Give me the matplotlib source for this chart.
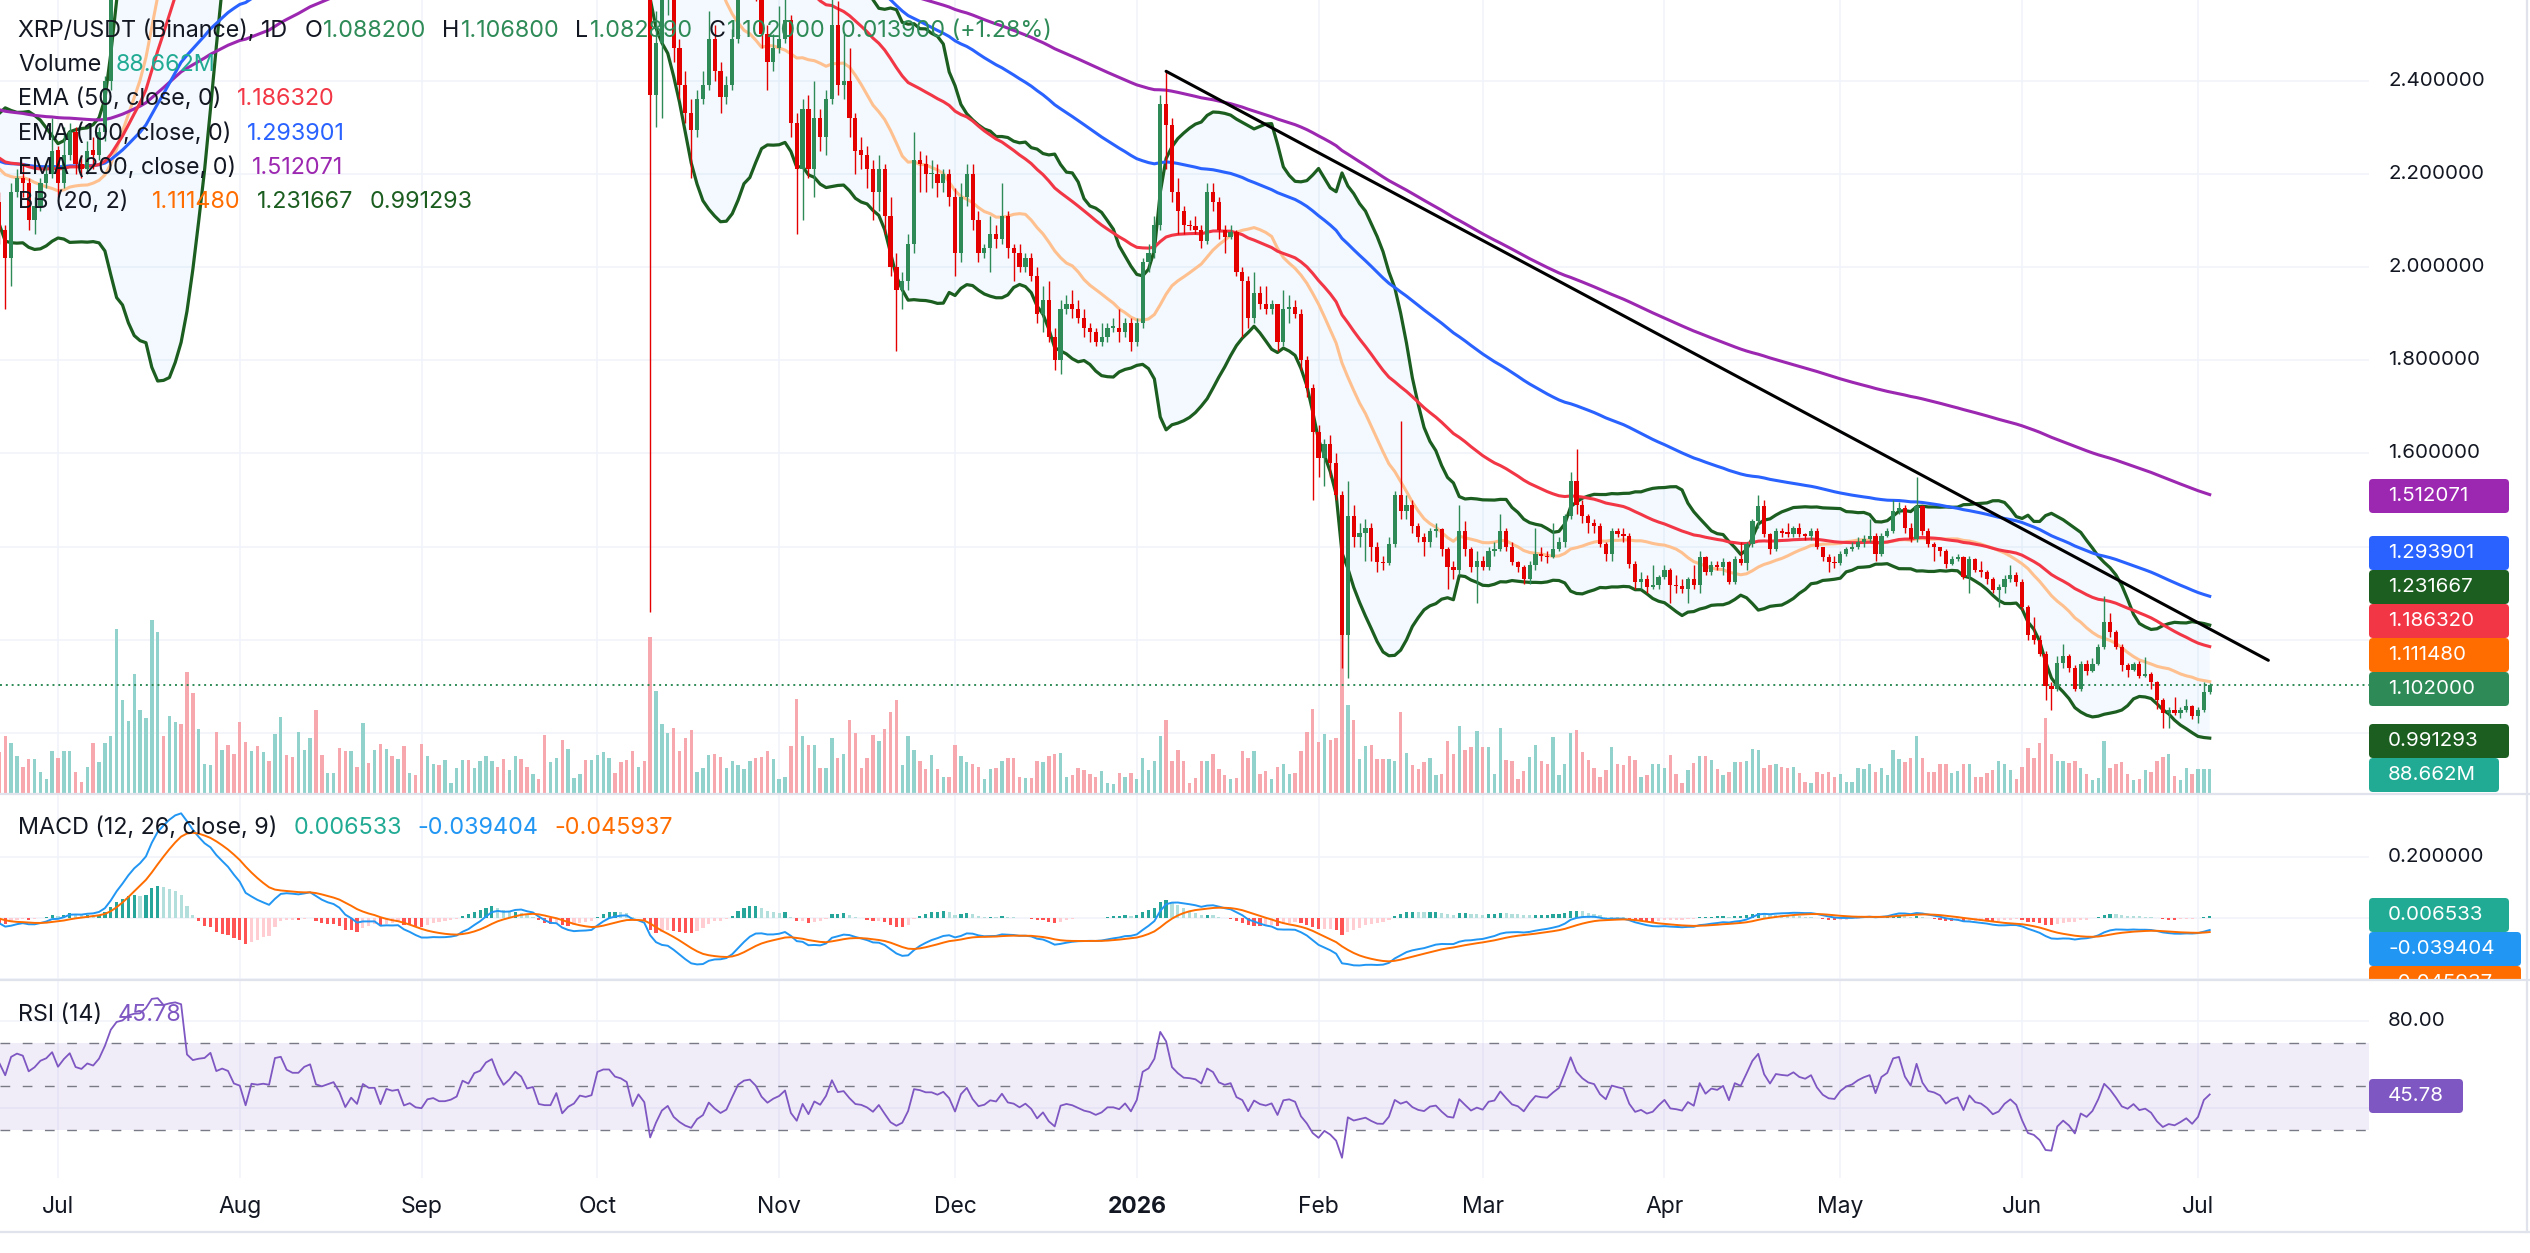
import numpy as np
import pandas as pd
import matplotlib
matplotlib.use("Agg")
import matplotlib.pyplot as plt
import matplotlib.transforms as mtransforms
from matplotlib.lines import Line2D
from matplotlib.patches import FancyBboxPatch

plt.rcParams['font.family'] = ['Inter', 'DejaVu Sans']

# ---------------- data (XRP/USDT daily) ----------------
START_DATE = "2025-06-21"
# warm-up closes before the first visible candle (1-20 Jun 2025)
PRE_CLOSE = [2.18, 2.26, 2.25, 2.24, 2.17, 2.18, 2.26, 2.27, 2.30, 2.32,
             2.28, 2.20, 2.17, 2.17, 2.18, 2.24, 2.16, 2.17, 2.17, 2.14]

CLOSE = [
    2.08, 2.02, 2.16, 2.19, 2.18, 2.10, 2.13, 2.18, 2.20, 2.25,
    2.18, 2.24, 2.29, 2.22, 2.21, 2.25, 2.24, 2.29, 2.40, 2.60, 2.74,
    2.77, 2.88, 2.92, 2.93, 3.07, 3.44, 3.48, 3.44, 3.51, 3.55,
    3.54, 3.20, 3.15, 3.17, 3.18, 3.25, 3.10, 3.13, 3.11, 3.00,
    2.98, 2.77, 2.99, 2.98, 2.99, 2.98, 3.31, 3.33, 3.21, 3.18,
    3.18, 3.25, 3.28, 3.10, 3.08, 3.10, 3.12, 3.03, 2.87, 2.95,
    2.88, 3.07, 3.03, 3.03, 2.85, 3.00, 2.98, 2.99, 2.81, 2.83,
    2.78, 2.77, 2.84, 2.85, 2.82, 2.82, 2.83, 2.85, 2.96, 2.94,
    3.02, 3.04, 3.11, 3.14, 3.05, 2.98, 3.02, 3.08, 3.05, 2.97,
    2.98, 2.85, 2.84, 2.84, 2.91, 2.74, 2.78, 2.80, 2.85, 2.84,
    2.85, 3.01, 3.03, 3.03, 2.99, 2.98, 2.96, 2.80, 2.87, 2.81,
    2.37, 2.48, 2.58, 2.62, 2.47, 2.39, 2.33, 2.295, 2.36, 2.39,
    2.49, 2.42, 2.365, 2.39, 2.49, 2.60, 2.64, 2.65, 2.60, 2.50,
    2.44, 2.47, 2.49, 2.53, 2.31, 2.21, 2.34, 2.21, 2.32, 2.28,
    2.36, 2.52, 2.39, 2.40, 2.32, 2.25, 2.24, 2.21, 2.16, 2.21,
    2.11, 2.00, 1.95, 1.97, 2.05, 2.23, 2.22, 2.20, 2.20, 2.18,
    2.20, 2.15, 2.03, 2.15, 2.20, 2.10, 2.03, 2.04, 2.07, 2.06,
    2.11, 2.04, 2.03, 2.00, 2.02, 1.98, 1.90, 1.93, 1.85, 1.80,
    1.91, 1.92, 1.91, 1.89, 1.87, 1.86, 1.84, 1.85, 1.87, 1.87,
    1.86, 1.88, 1.84, 1.88, 2.01, 2.03, 2.09, 2.35, 2.305, 2.16,
    2.12, 2.09, 2.087, 2.08, 2.055, 2.16, 2.14, 2.08, 2.065, 2.075,
    1.99, 1.97, 1.89, 1.945, 1.92, 1.91, 1.92, 1.84, 1.91, 1.915,
    1.90, 1.80, 1.74, 1.645, 1.59, 1.62, 1.58, 1.51, 1.21, 1.466,
    1.42, 1.43, 1.44, 1.40, 1.367, 1.365, 1.405, 1.51, 1.477, 1.49,
    1.444, 1.42, 1.41, 1.433, 1.438, 1.395, 1.357, 1.35, 1.433, 1.395,
    1.357, 1.37, 1.357, 1.39, 1.395, 1.433, 1.40, 1.367, 1.357, 1.33,
    1.36, 1.385, 1.38, 1.378, 1.395, 1.41, 1.465, 1.54, 1.49, 1.466,
    1.45, 1.444, 1.405, 1.384, 1.433, 1.427, 1.422, 1.362, 1.324, 1.33,
    1.313, 1.318, 1.335, 1.35, 1.318, 1.315, 1.31, 1.33, 1.318, 1.378,
    1.345, 1.36, 1.356, 1.367, 1.324, 1.373, 1.365, 1.405, 1.455, 1.487,
    1.427, 1.395, 1.433, 1.43, 1.428, 1.44, 1.427, 1.422, 1.433, 1.40,
    1.378, 1.367, 1.365, 1.384, 1.395, 1.40, 1.41, 1.417, 1.422, 1.384,
    1.422, 1.433, 1.477, 1.482, 1.44, 1.417, 1.487, 1.433, 1.405, 1.40,
    1.39, 1.362, 1.373, 1.378, 1.335, 1.373, 1.35, 1.345, 1.33, 1.307,
    1.313, 1.33, 1.34, 1.324, 1.27, 1.21, 1.20, 1.17, 1.10, 1.095,
    1.15, 1.165, 1.14, 1.095, 1.149, 1.132, 1.149, 1.185, 1.239, 1.217,
    1.185, 1.146, 1.135, 1.149, 1.123, 1.127, 1.11, 1.071, 1.042, 1.049,
    1.043, 1.05, 1.058, 1.036, 1.05, 1.0882, 1.102,
]

HIGH = [
    2.16, 2.09, 2.18, 2.21, 2.22, 2.19, 2.15, 2.19, 2.22, 2.32,
    2.26, 2.30, 2.31, 2.30, 2.24, 2.27, 2.28, 2.30, 2.41, 2.64, 3.00,
    2.85, 2.93, 3.01, 3.03, 3.10, 3.48, 3.66, 3.53, 3.55, 3.62,
    3.65, 3.58, 3.26, 3.20, 3.24, 3.27, 3.33, 3.17, 3.19, 3.18,
    3.04, 3.01, 3.02, 3.07, 3.04, 3.02, 3.38, 3.38, 3.36, 3.26,
    3.28, 3.27, 3.33, 3.30, 3.13, 3.14, 3.17, 3.12, 3.05, 2.99,
    2.97, 3.10, 3.09, 3.06, 3.04, 3.03, 3.03, 3.02, 2.99, 2.85,
    2.84, 2.80, 2.86, 2.88, 2.86, 2.87, 2.85, 2.87, 2.99, 3.03,
    3.04, 3.06, 3.12, 3.18, 3.16, 3.08, 3.04, 3.10, 3.13, 3.08,
    3.00, 2.99, 2.88, 2.92, 2.94, 2.92, 2.80, 2.82, 2.87, 2.90,
    2.88, 3.02, 3.06, 3.09, 3.04, 3.01, 3.03, 2.99, 2.89, 2.87,
    2.85, 2.55, 2.62, 2.70, 2.64, 2.49, 2.42, 2.36, 2.38, 2.42,
    2.55, 2.52, 2.44, 2.41, 2.51, 2.62, 2.69, 2.70, 2.66, 2.63,
    2.52, 2.50, 2.56, 2.58, 2.54, 2.33, 2.36, 2.37, 2.40, 2.34,
    2.38, 2.58, 2.57, 2.50, 2.47, 2.33, 2.28, 2.26, 2.23, 2.24,
    2.22, 2.15, 2.03, 1.99, 2.07, 2.29, 2.25, 2.24, 2.23, 2.22,
    2.21, 2.21, 2.17, 2.18, 2.22, 2.22, 2.12, 2.05, 2.11, 2.09,
    2.18, 2.12, 2.05, 2.05, 2.03, 2.03, 2.00, 1.96, 1.97, 1.87,
    1.93, 1.94, 1.95, 1.93, 1.91, 1.88, 1.87, 1.88, 1.88, 1.89,
    1.91, 1.89, 1.89, 1.89, 2.02, 2.05, 2.11, 2.37, 2.42, 2.32,
    2.19, 2.13, 2.10, 2.11, 2.09, 2.18, 2.18, 2.15, 2.09, 2.09,
    2.08, 2.00, 1.98, 1.99, 1.96, 1.96, 1.93, 1.92, 1.95, 1.94,
    1.93, 1.91, 1.81, 1.75, 1.66, 1.63, 1.64, 1.60, 1.52, 1.54,
    1.49, 1.45, 1.46, 1.45, 1.41, 1.38, 1.42, 1.52, 1.67, 1.51,
    1.50, 1.45, 1.43, 1.44, 1.45, 1.44, 1.40, 1.37, 1.49, 1.455,
    1.40, 1.39, 1.38, 1.40, 1.41, 1.47, 1.44, 1.41, 1.37, 1.36,
    1.37, 1.44, 1.40, 1.39, 1.45, 1.42, 1.47, 1.56, 1.61, 1.50,
    1.47, 1.46, 1.45, 1.41, 1.44, 1.44, 1.44, 1.43, 1.37, 1.345,
    1.34, 1.36, 1.34, 1.36, 1.355, 1.34, 1.33, 1.335, 1.36, 1.39,
    1.38, 1.37, 1.37, 1.375, 1.37, 1.38, 1.41, 1.41, 1.46, 1.51,
    1.50, 1.43, 1.44, 1.44, 1.45, 1.445, 1.45, 1.43, 1.44, 1.44,
    1.40, 1.385, 1.38, 1.39, 1.40, 1.41, 1.42, 1.425, 1.46, 1.43,
    1.43, 1.44, 1.50, 1.495, 1.49, 1.45, 1.55, 1.49, 1.44, 1.41,
    1.40, 1.395, 1.38, 1.385, 1.38, 1.38, 1.375, 1.37, 1.35, 1.335,
    1.32, 1.34, 1.36, 1.345, 1.33, 1.275, 1.25, 1.21, 1.175, 1.11,
    1.165, 1.19, 1.17, 1.145, 1.155, 1.156, 1.16, 1.19, 1.294, 1.257,
    1.22, 1.19, 1.15, 1.152, 1.155, 1.163, 1.13, 1.112, 1.075, 1.055,
    1.077, 1.055, 1.074, 1.06, 1.055, 1.11, 1.1068,
]

LOW = [
    2.05, 1.91, 1.96, 2.15, 2.15, 2.08, 2.07, 2.12, 2.17, 2.19,
    2.15, 2.17, 2.23, 2.20, 2.19, 2.20, 2.21, 2.23, 2.27, 2.38, 2.58,
    2.68, 2.74, 2.82, 2.83, 2.90, 3.05, 3.36, 3.38, 3.42, 3.45,
    3.40, 3.10, 2.99, 3.00, 3.14, 3.14, 3.08, 3.05, 3.03, 2.98,
    2.88, 2.72, 2.77, 2.94, 2.92, 2.88, 2.98, 3.23, 3.18, 3.11,
    3.11, 3.10, 3.20, 3.05, 3.04, 3.05, 3.06, 2.98, 2.86, 2.83,
    2.85, 2.87, 2.99, 2.97, 2.84, 2.85, 2.94, 2.96, 2.80, 2.80,
    2.77, 2.70, 2.75, 2.80, 2.76, 2.79, 2.80, 2.82, 2.84, 2.92,
    2.93, 2.98, 3.02, 3.09, 3.03, 2.97, 2.96, 2.97, 3.03, 2.96,
    2.96, 2.83, 2.79, 2.82, 2.83, 2.69, 2.73, 2.76, 2.79, 2.81,
    2.78, 2.84, 2.98, 2.99, 2.97, 2.95, 2.94, 2.79, 2.79, 2.78,
    1.26, 2.30, 2.32, 2.54, 2.44, 2.36, 2.31, 2.19, 2.28, 2.35,
    2.38, 2.40, 2.33, 2.35, 2.38, 2.48, 2.58, 2.61, 2.57, 2.47,
    2.38, 2.42, 2.46, 2.48, 2.28, 2.07, 2.10, 2.19, 2.15, 2.25,
    2.24, 2.35, 2.37, 2.36, 2.28, 2.20, 2.21, 2.17, 2.10, 2.12,
    2.07, 1.98, 1.82, 1.91, 1.95, 2.03, 2.16, 2.16, 2.17, 2.15,
    2.16, 2.13, 1.98, 2.01, 2.13, 2.08, 2.01, 2.02, 1.99, 2.04,
    2.05, 2.02, 1.97, 1.99, 1.99, 1.97, 1.88, 1.86, 1.84, 1.78,
    1.77, 1.90, 1.89, 1.88, 1.85, 1.84, 1.83, 1.83, 1.84, 1.86,
    1.84, 1.85, 1.82, 1.83, 1.87, 1.99, 2.02, 2.08, 2.21, 2.14,
    2.07, 2.07, 2.08, 2.07, 2.04, 2.05, 2.12, 2.06, 2.03, 2.06,
    1.98, 1.85, 1.87, 1.88, 1.91, 1.90, 1.90, 1.82, 1.83, 1.88,
    1.89, 1.78, 1.72, 1.50, 1.55, 1.53, 1.55, 1.50, 1.14, 1.117,
    1.40, 1.40, 1.37, 1.37, 1.345, 1.35, 1.36, 1.40, 1.46, 1.46,
    1.43, 1.41, 1.38, 1.40, 1.42, 1.38, 1.31, 1.33, 1.34, 1.38,
    1.345, 1.28, 1.35, 1.35, 1.38, 1.39, 1.39, 1.36, 1.345, 1.32,
    1.32, 1.35, 1.37, 1.365, 1.375, 1.39, 1.40, 1.46, 1.47, 1.45,
    1.43, 1.43, 1.40, 1.37, 1.37, 1.42, 1.41, 1.355, 1.31, 1.31,
    1.30, 1.31, 1.31, 1.33, 1.28, 1.30, 1.30, 1.28, 1.31, 1.30,
    1.34, 1.34, 1.35, 1.34, 1.32, 1.32, 1.36, 1.35, 1.40, 1.44,
    1.42, 1.385, 1.39, 1.42, 1.42, 1.42, 1.42, 1.415, 1.415, 1.395,
    1.37, 1.345, 1.355, 1.36, 1.38, 1.39, 1.395, 1.40, 1.41, 1.37,
    1.38, 1.42, 1.43, 1.47, 1.43, 1.41, 1.41, 1.425, 1.40, 1.37,
    1.38, 1.355, 1.36, 1.37, 1.33, 1.30, 1.345, 1.335, 1.32, 1.30,
    1.27, 1.30, 1.325, 1.315, 1.265, 1.20, 1.19, 1.165, 1.07, 1.05,
    1.09, 1.14, 1.13, 1.09, 1.09, 1.125, 1.13, 1.145, 1.18, 1.207,
    1.18, 1.134, 1.121, 1.132, 1.118, 1.12, 1.094, 1.052, 1.010, 1.01,
    1.038, 1.032, 1.045, 1.031, 1.021, 1.045, 1.08289,
]

VOLUME_M = [
    150,
    207, 180, 133, 96, 124, 124, 78, 50, 152, 128,
    152, 152, 78, 41, 96, 180, 111, 183, 207, 596,
    337, 263, 433, 300, 272, 629, 586, 207, 281, 259,
    250, 438, 364, 231, 105, 100, 220, 157, 176, 142,
    257, 185, 152, 170, 148, 115, 213, 276, 137, 130,
    222, 157, 198, 300, 139, 72, 72, 165, 152, 152,
    96, 253, 109, 157, 179, 161, 133, 124,
    170, 74, 65, 179, 133, 105, 100, 120, 37, 91,
    120, 120, 91, 115, 133, 115, 96, 124, 83, 133,
    124, 96, 68, 50, 211, 111, 128, 194, 161, 54,
    68, 118, 118, 139, 148, 128, 74, 111, 120, 154,
    96, 115, 568, 370, 250, 216, 235, 152, 198, 229,
    78, 91, 137, 142, 130, 91, 115, 100, 87, 115,
    128, 130, 152, 124, 50,
    59, 170, 342, 207, 176, 176, 91, 92, 198, 128,
    142, 266, 216, 91, 128, 211, 189, 231, 294, 337,
    100, 207, 157, 115, 87, 139, 87, 59, 59, 174,
    133, 111, 105, 96, 50, 87, 91, 115, 128, 128,
    59, 54, 54, 115, 111, 133, 142, 146, 59, 65,
    91, 83, 68, 59, 81, 37, 31, 72, 59, 74,
    50,
    128, 83, 115, 207, 266, 115, 157, 115, 37, 54,
    115, 115, 142, 87, 65, 50, 54, 152, 128, 152,
    68, 81, 50, 96, 105, 68, 74, 152, 222, 305,
    185, 213, 194, 198, 620, 319, 266, 124, 170, 176,
    124, 124, 124, 115, 294, 146, 102, 87, 111, 128,
    65, 68, 189, 142, 244, 157, 166, 226, 166, 166,
    68, 235, 118, 115, 50,
    80, 130, 176, 115, 105, 204, 65, 105, 216, 229,
    148, 120, 92, 59, 83, 166, 105, 102, 133, 120,
    59, 65, 105, 105, 92, 137, 68, 37, 83, 109,
    133, 133, 118, 87, 65, 78, 111, 111, 115, 161,
    157, 92, 102, 105, 96, 92, 96, 72, 41, 37,
    78, 68, 78, 59, 68, 41, 41, 91, 87, 105,
    78, 91, 65, 157, 124, 111, 128, 207,
    128, 78, 78, 105, 105, 72, 81, 105, 105, 59,
    59, 72, 83, 115, 105, 83, 50, 96, 164, 128,
    183, 272, 142, 115, 115, 109, 115,
    92, 70, 46, 56, 188, 92, 104, 111, 70, 46,
    50, 82, 75, 115, 129, 140, 60, 46, 92, 68,
    86, 88, 88.662,
]

EMA_SEED = {50: 2.24, 100: 2.23, 200: 2.34}   # values at the left edge
TREND_DATES = ["2026-01-06", "2026-07-13"]
TREND_PRICE = [2.42, 1.156]
LAST_PRICE = 1.102

OHLC_TEXT = ["1.088200", "1.106800", "1.082890", "1.102000"]
CHANGE_TEXT = "0.013900 (+1.28%)"
VOLUME_TEXT = "88.662M"
EMA_TEXT = ["1.186320", "1.293901", "1.512071"]
BB_TEXT = ["1.111480", "1.231667", "0.991293"]
MACD_TEXT = ["0.006533", "-0.039404", "-0.045937"]
RSI_TEXT = "45.78"

PRICE_TICKS = [1.0, 1.2, 1.4, 1.6, 1.8, 2.0, 2.2, 2.4]
MACD_TICKS = [-0.2, 0.0, 0.2]
RSI_TICKS = [40, 80]

assert len(CLOSE) == len(HIGH) == len(LOW) == len(VOLUME_M)

# ---------------- indicators ----------------
close = np.array(CLOSE)
high = np.array(HIGH)
low = np.array(LOW)
vol = np.array(VOLUME_M)
allc = pd.Series(PRE_CLOSE + CLOSE)
npre = len(PRE_CLOSE)
opn = allc.values[npre - 1:-1]


def ema_seeded(values, length, seed):
    a = 2.0 / (length + 1)
    out = np.empty(len(values))
    prev = seed
    for i, v in enumerate(values):
        prev = a * v + (1 - a) * prev
        out[i] = prev
    return out


ema = {n: ema_seeded(close, n, s) for n, s in EMA_SEED.items()}
bb_mid = allc.rolling(20).mean().values[npre:]
bb_sd = allc.rolling(20).std(ddof=0).values[npre:]
bb_up = bb_mid + 2 * bb_sd
bb_lo = bb_mid - 2 * bb_sd

macd_all = allc.ewm(span=12, adjust=False).mean() - allc.ewm(span=26, adjust=False).mean()
sig_all = macd_all.ewm(span=9, adjust=False).mean()
macd = macd_all.values[npre:]
sig = sig_all.values[npre:]
hist = macd - sig

d = allc.diff()
gain = d.clip(lower=0).ewm(alpha=1 / 14, adjust=False).mean()
loss = (-d.clip(upper=0)).ewm(alpha=1 / 14, adjust=False).mean()
rsi = (100 - 100 / (1 + gain / loss)).values[npre:]

dates = pd.date_range(START_DATE, periods=len(CLOSE), freq="D")
DAY0 = pd.Timestamp("2025-07-01")
x = (dates - DAY0).days.values.astype(float)
months = pd.date_range("2025-07-01", "2026-07-01", freq="MS")
mx = (months - DAY0).days.values.astype(float)
tx = (pd.to_datetime(TREND_DATES) - DAY0).days.values.astype(float)

# ---------------- layout (pixels) ----------------
W, H = 2530, 1253
PLOT_R = 2369
PRICE_PX, MACD_PX, RSI_PX = (0, 793), (795, 979), (981, 1178)
JUL1_PX, DAY_PX = 58, 5.863
XLIM = (-JUL1_PX / DAY_PX, (PLOT_R - JUL1_PX) / DAY_PX)
BOX_H = 34

DARK = "#131722"
GRID = "#F0F3FA"
UP, DOWN = "#2E8B57", "#E50000"
VUP, VDOWN = "#92D2CC", "#F7A8AE"
FS = 16.8       # legends
FS_AX = 14.8    # price scales
FS_T = 16.5     # time axis

fig = plt.figure(figsize=(W / 100, H / 100), dpi=100)
fig.patch.set_facecolor("white")


def axes_px(x0, y0, x1, y1):
    return fig.add_axes([x0 / W, 1 - y1 / H, (x1 - x0) / W, (y1 - y0) / H])


def clean(ax):
    ax.set_xticks([])
    ax.set_yticks([])
    for s in ax.spines.values():
        s.set_visible(False)


# price pane: volume axes underneath, price axes on top
ax_v = axes_px(0, PRICE_PX[0], PLOT_R, PRICE_PX[1])
ax_p = ax_v.twinx()
ax_p.patch.set_visible(False)
for a in (ax_v, ax_p):
    clean(a)
ax_v.set_xlim(*XLIM)
ax_p.set_ylim(1 - (PRICE_PX[1] - 733) / 466, 1 + (733 - PRICE_PX[0]) / 466)
ax_v.set_ylim(0, (PRICE_PX[1] - PRICE_PX[0]) * 3.63)

tr = mtransforms.blended_transform_factory(ax_v.transAxes, ax_p.transData)
for p in PRICE_TICKS:
    ax_v.plot([0, 1], [p, p], transform=tr, color=GRID, lw=1.1, zorder=0)
for m in mx:
    ax_v.axvline(m, color=GRID, lw=1.1, zorder=0)

is_up = close >= opn
ax_v.bar(x, vol, width=0.58, color=np.where(is_up, VUP, VDOWN), linewidth=0, zorder=2)

ax_p.fill_between(x, bb_lo, bb_up, color="#2196F3", alpha=0.05, lw=0, zorder=1)
ax_p.plot(x, bb_mid, color="#FFC08F", lw=2.2, zorder=2)
ax_p.plot(x, bb_up, color="#1B5E20", lw=2.3, zorder=2)
ax_p.plot(x, bb_lo, color="#1B5E20", lw=2.3, zorder=2)
ax_p.plot(x, ema[200], color="#9C27B0", lw=2.2, zorder=3)
ax_p.plot(x, ema[100], color="#2962FF", lw=2.2, zorder=3)
ax_p.plot(x, ema[50], color="#F23645", lw=2.2, zorder=3)

ccol = np.where(is_up, UP, DOWN)
ax_p.vlines(x, low, high, colors=ccol, lw=1.0, zorder=4)
body_lo = np.minimum(opn, close)
body_h = np.maximum(np.abs(close - opn), 1.2 / 466)
ax_p.bar(x, body_h, bottom=body_lo, width=0.72, color=ccol, linewidth=0, zorder=5)

ax_p.plot(tx, TREND_PRICE, color="black", lw=2.2, solid_capstyle="round", zorder=6)
ax_p.axhline(LAST_PRICE, color=UP, lw=1.4, ls=(0, (1, 2)), zorder=3)

# MACD pane
ax_m = axes_px(0, MACD_PX[0], PLOT_R, MACD_PX[1])
clean(ax_m)
ax_m.set_xlim(*XLIM)
ax_m.set_ylim(-(MACD_PX[1] - 918) / 305, (918 - MACD_PX[0]) / 305)
for v in MACD_TICKS:
    ax_m.axhline(v, color=GRID, lw=1.1, zorder=0)
for m in mx:
    ax_m.axvline(m, color=GRID, lw=1.1, zorder=0)
prev = np.r_[hist[0], hist[:-1]]
hcol = np.where(hist >= 0, np.where(hist >= prev, "#26A69A", "#B2DFDB"),
                np.where(hist <= prev, "#FF5252", "#FFCDD2"))
ax_m.bar(x, hist, width=0.55, color=hcol, linewidth=0, zorder=2)
ax_m.plot(x, macd, color="#2196F3", lw=1.4, zorder=3)
ax_m.plot(x, sig, color="#FF6D00", lw=1.4, zorder=3)

# RSI pane
ax_r = axes_px(0, RSI_PX[0], PLOT_R, RSI_PX[1])
clean(ax_r)
ax_r.set_xlim(*XLIM)
ax_r.set_ylim(40 - (RSI_PX[1] - 1108) / 2.175, 40 + (1108 - RSI_PX[0]) / 2.175)
for v in RSI_TICKS:
    ax_r.axhline(v, color=GRID, lw=1.1, zorder=0)
for m in mx:
    ax_r.axvline(m, color=GRID, lw=1.1, zorder=0)
ax_r.axhspan(30, 70, color="#7E57C2", alpha=0.1, lw=0, zorder=1)
for v in (70, 50, 30):
    ax_r.axhline(v, color="#787B86", lw=1.0, ls=(0, (7, 9)), zorder=2)
ax_r.plot(x, rsi, color="#7E57C2", lw=1.3, zorder=3)

# separators / borders
for yy in (794, 980):
    fig.add_artist(Line2D([0, 1], [1 - yy / H] * 2, transform=fig.transFigure, color="#E0E3EB", lw=1.6))
fig.add_artist(Line2D([0, 1], [1 - 1232 / H] * 2, transform=fig.transFigure, color="#E0E3EB", lw=1.6))
fig.add_artist(Line2D([2527 / W] * 2, [1 - 1232 / H, 1], transform=fig.transFigure, color="#E0E3EB", lw=1.6))

# ---------------- right scales ----------------
IDT = mtransforms.IdentityTransform()


def scale_axes(pane, ylim):
    a = axes_px(PLOT_R, pane[0], 2526, pane[1])
    clean(a)
    a.set_ylim(*ylim)
    a.patch.set_visible(False)
    return a


def scale_box(a, y_px, s, color, right_px):
    box = FancyBboxPatch((PLOT_R, H - y_px - BOX_H / 2), right_px - PLOT_R, BOX_H,
                         boxstyle="round,pad=0,rounding_size=4", transform=IDT,
                         fc=color, ec="none", zorder=5)
    a.add_artist(box)
    a.text(2388, H - y_px, s, transform=IDT, color="white", fontsize=FS_AX,
           va="center", ha="left", zorder=6, clip_on=True)


def scale_labels(a, data_ax, ticks, fmt, boxes, keep_partial=False):
    # tick labels; the ones buried under a value box are left out
    t = mtransforms.blended_transform_factory(a.transAxes, a.transData)
    for v in ticks:
        y_px = H - data_ax.transData.transform((0, v))[1]
        hidden = any(abs(y_px - b[0]) < BOX_H / 2 + 4 for b in boxes)
        if hidden and not keep_partial:
            continue
        a.text(19 / (2526 - PLOT_R), v, fmt.format(v), transform=t, color=DARK,
               fontsize=FS_AX, va="center", ha="left", zorder=2, clip_on=True)
    for b in boxes:
        scale_box(a, *b)


price_boxes = [(496, EMA_TEXT[2], "#9C27B0", 2509), (553, EMA_TEXT[1], "#2962FF", 2509),
               (587, BB_TEXT[1], "#1B5E20", 2509), (621, EMA_TEXT[0], "#F23645", 2509),
               (655, BB_TEXT[0], "#FF6D00", 2509), (689, OHLC_TEXT[3], UP, 2509),
               (741, BB_TEXT[2], "#1B5E20", 2509), (775, VOLUME_TEXT, "#22AB94", 2499)]
macd_boxes = [(915, MACD_TEXT[0], "#22AB94", 2509), (949, MACD_TEXT[1], "#2196F3", 2521),
              (983, MACD_TEXT[2], "#FF6D00", 2521)]
rsi_boxes = [(1096, RSI_TEXT, "#7E57C2", 2463)]

s_p = scale_axes(PRICE_PX, ax_p.get_ylim())
s_m = scale_axes(MACD_PX, ax_m.get_ylim())
s_r = scale_axes(RSI_PX, ax_r.get_ylim())
scale_labels(s_p, ax_p, PRICE_TICKS, "{:.6f}", price_boxes)
scale_labels(s_m, ax_m, MACD_TICKS, "{:.6f}", macd_boxes)
scale_labels(s_r, ax_r, RSI_TICKS, "{:.2f}", rsi_boxes, keep_partial=True)

# ---------------- time axis ----------------
ttr = mtransforms.blended_transform_factory(ax_r.transData, fig.transFigure)
for m, dt in zip(mx, months):
    lab = str(dt.year) if dt.month == 1 else dt.strftime("%b")
    fig.text(m, 1 - 1207 / H, lab, transform=ttr, color=DARK, fontsize=FS_T,
             ha="center", va="center", fontweight="bold" if dt.month == 1 else "normal")

# ---------------- legends ----------------
R = fig.canvas.get_renderer()


def legend_row(y_px, parts, x_px=18):
    xx = x_px
    for it in parts:
        if isinstance(it, (int, float)):
            xx += it
            continue
        s, c = it
        t = fig.text(xx / W, 1 - y_px / H, s, color=c, fontsize=FS, ha="left", va="center")
        xx += t.get_window_extent(renderer=R).width


G = "#2E8B57"
legend_row(31, [("XRP/USDT (Binance), 1D", DARK), 17,
                ("O", DARK), 1, (OHLC_TEXT[0], G), 16, ("H", DARK), 1, (OHLC_TEXT[1], G), 16,
                ("L", DARK), 1, (OHLC_TEXT[2], G), 16, ("C", DARK), 1, (OHLC_TEXT[3], G), 16,
                (CHANGE_TEXT, G)])
legend_row(65, [("Volume", DARK), 14, (VOLUME_TEXT, "#22AB94")])
legend_row(99, [("EMA (50, close, 0)", DARK), 16, (EMA_TEXT[0], "#F23645")])
legend_row(134, [("EMA (100, close, 0)", DARK), 16, (EMA_TEXT[1], "#2962FF")])
legend_row(168, [("EMA (200, close, 0)", DARK), 16, (EMA_TEXT[2], "#9C27B0")])
legend_row(202, [("BB (20, 2)", DARK), 24, (BB_TEXT[0], "#FF6D00"), 16,
                 (BB_TEXT[1], "#1B5E20"), 16, (BB_TEXT[2], "#1B5E20")])
legend_row(828, [("MACD (12, 26, close, 9)", DARK), 16, (MACD_TEXT[0], "#22AB94"), 16,
                 (MACD_TEXT[1], "#2196F3"), 16, (MACD_TEXT[2], "#FF6D00")])
legend_row(1015, [("RSI (14)", DARK), 16, (RSI_TEXT, "#7E57C2")])

fig.savefig("out.png", dpi=100, facecolor="white")
